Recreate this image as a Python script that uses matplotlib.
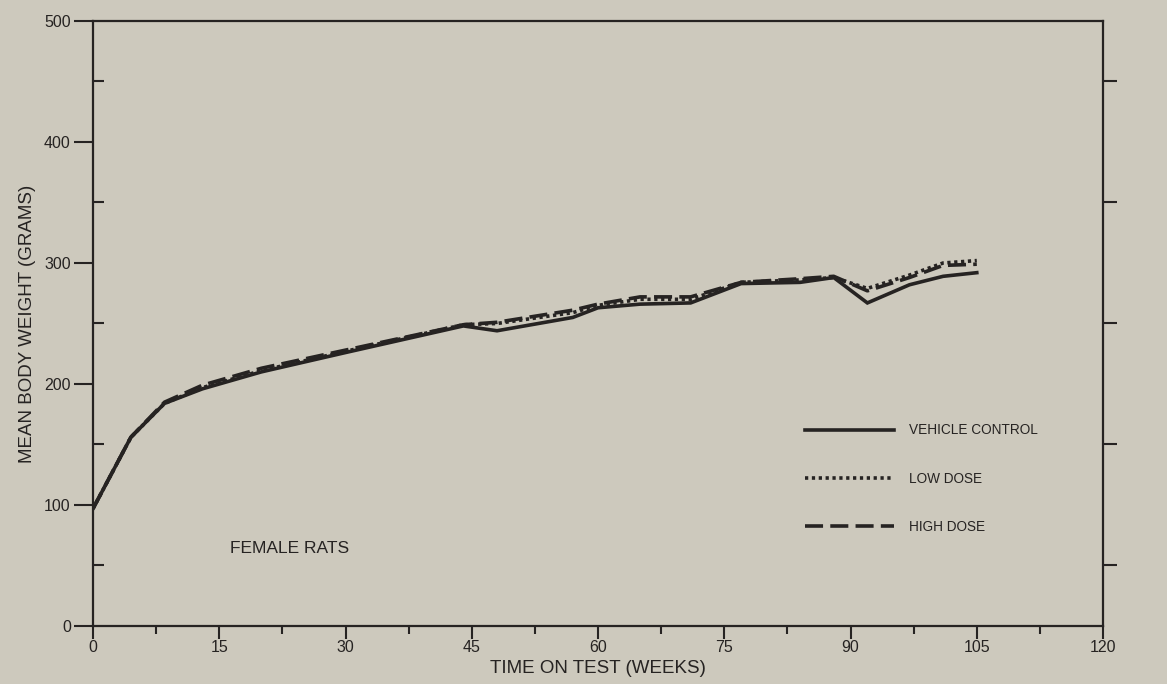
import numpy as np
import matplotlib
matplotlib.use("Agg")
import matplotlib.pyplot as plt

plt.rcParams['font.family'] = ['Liberation Sans', 'DejaVu Sans']

# weeks on test and mean body weights (grams)
weeks = [0, 4.5, 8.5, 13, 20, 30, 44, 48, 57, 60, 65, 71, 77, 84, 88, 92, 97, 101, 105]
vehicle = [97, 156, 184, 196, 210, 226, 248, 244, 255, 263, 266, 267, 283, 284, 288, 267, 282, 289, 292]
low_dose = [97, 156, 184, 197, 211, 227, 249, 250, 259, 265, 270, 270, 284, 286, 288, 279, 290, 300, 302]
high_dose = [97, 156, 185, 199, 213, 228, 249, 251, 261, 266, 272, 272, 284, 287, 289, 277, 288, 298, 299]

labels = ["VEHICLE CONTROL", "LOW DOSE", "HIGH DOSE"]
xticks = np.arange(0, 121, 15)
yticks = np.arange(0, 501, 100)

bg = "#cdc9bd"
ink = "#262322"

fig = plt.figure(figsize=(11.67, 6.84), dpi=100, facecolor=bg)
ax = fig.add_axes([0.0797, 0.0848, 0.8655, 0.8845])
ax.set_facecolor(bg)

ax.plot(weeks, vehicle, color=ink, lw=2.6, solid_joinstyle='miter', label=labels[0])
ax.plot(weeks, low_dose, color=ink, lw=2.6, linestyle=(0, (0.9, 1.0)), label=labels[1])
ax.plot(weeks, high_dose, color=ink, lw=2.6, linestyle=(0, (5, 2)), label=labels[2])

ax.set_xlim(0, 120)
ax.set_ylim(0, 500)
ax.set_xticks(xticks)
ax.set_xticks(np.arange(7.5, 120, 15), minor=True)
ax.set_yticks(yticks)
ax.set_yticks(np.arange(50, 500, 100), minor=True)

for s in ax.spines.values():
    s.set_color(ink)
    s.set_linewidth(1.6)

ax.tick_params(axis='x', which='major', direction='out', length=9, width=1.5,
               colors=ink, labelsize=11.5, pad=1)
ax.tick_params(axis='x', which='minor', direction='out', length=6, width=1.5, colors=ink)
ax.tick_params(axis='y', which='major', direction='out', length=14, width=1.5,
               colors=ink, labelsize=11.5, pad=2, right=True, labelright=True)
ax.tick_params(axis='y', which='minor', direction='in', length=8, width=1.5, colors=ink, right=False)

# right axis minor ticks point outward
ax2 = ax.twinx()
ax2.set_ylim(0, 500)
ax2.set_yticks([])
ax2.set_yticks(np.arange(50, 500, 100), minor=True)
ax2.tick_params(axis='y', which='minor', direction='out', length=10, width=1.5, colors=ink)
for s in ax2.spines.values():
    s.set_visible(False)

ax.set_xlabel("TIME ON TEST (WEEKS)", fontsize=13.5, color=ink, labelpad=4)
ax.set_ylabel("MEAN BODY WEIGHT (GRAMS)", fontsize=13.5, color=ink, labelpad=6)

ax.text(16.3, 64, "FEMALE RATS", fontsize=12.5, color=ink, va='center')

leg = ax.legend(loc='upper left', bbox_to_anchor=(0.693, 0.355), frameon=False,
                handlelength=6.5, handletextpad=1.1, labelspacing=2.5, fontsize=9.8)
for t in leg.get_texts():
    t.set_color(ink)

fig.savefig("out.png", dpi=100, facecolor=bg)
